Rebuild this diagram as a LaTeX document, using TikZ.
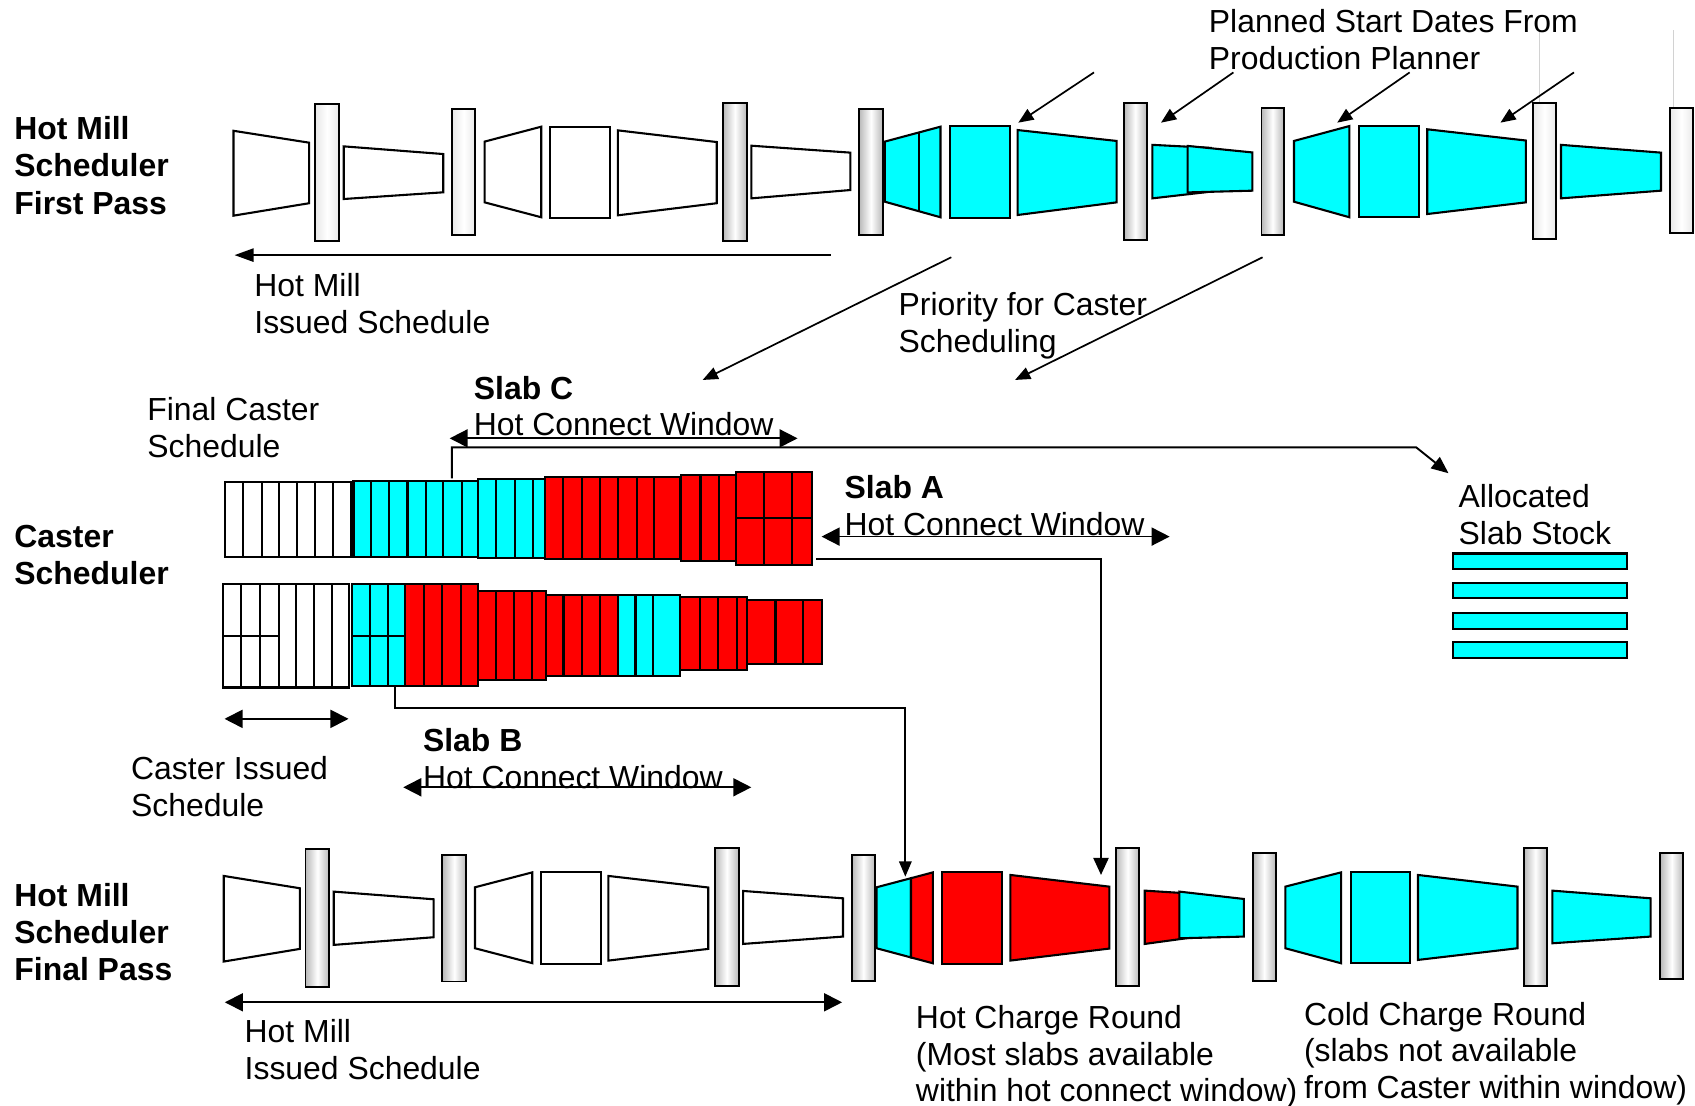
\documentclass[tikz,border=0pt]{standalone}
\usepackage{fontspec}
\setmainfont{Liberation Sans}
\usetikzlibrary{arrows.meta}
\definecolor{aqua}{RGB}{0,255,255}
\definecolor{hotred}{RGB}{255,0,0}

\begin{document}
\begin{tikzpicture}[x=0.02cm,y=-0.02cm,
  txt/.style={anchor=north west,inner sep=0pt,align=left,font=\fontsize{16.8}{19.4}\selectfont},
  head/.style={txt,font=\fontsize{16.8}{19.6}\selectfont\bfseries},
  slab/.style={draw,line width=1.1pt},
  roll/.style={draw,line width=1pt,left color=gray!55,right color=gray!55,middle color=white},
  paleroll/.style={draw,line width=1pt,left color=gray!18,right color=gray!18,middle color=white},
  arr/.style={-{Triangle[length=8pt,width=6.5pt]},line width=0.9pt},
  dbl/.style={{Triangle[length=9.5pt,width=9.5pt]}-{Triangle[length=9.5pt,width=9.5pt]},line width=0.9pt}]
\useasboundingbox (0,0) rectangle (1568,1023);

\draw[gray!35,line width=0.5pt] (1424,28)--(1424,96) (1548,28)--(1548,143);

\foreach \xa/\ta/\ba/\xb/\tb/\bb/\c in {
  216/121/199.5/286/132/188/white, 318/135.4/184.1/410/142.5/177.9/white,
  448.3/131/187.2/500.7/117.2/201/white, 508.5/117.2/201.7/564.1/117.2/201.7/white,
  571.5/120.6/199.2/663/131.4/188/white, 695.1/134.8/183.5/786.6/141.2/175.8/white,
  818.5/131/186.6/870/117.2/201/aqua, 879/116.6/201.7/934/116.6/201.7/aqua,
  941.3/120.3/198.9/1033/130.4/187.2/aqua, 1066/134/183.5/1120/136.8/177.3/aqua,
  1098.6/135/178/1158.5/141/176.4/aqua, 1197/130.4/186.6/1248.3/116.6/201/aqua,
  1257.3/116.6/201/1312.8/116.6/201/aqua, 1320.3/119.6/198/1411.6/130/187.2/aqua,
  1444/134/183.5/1536.5/141.2/176.4/aqua,
  207/810.3/889.5/277.4/821.7/877.8/white, 308.7/824.8/874.1/401.2/831.9/867/white,
  439.4/820.8/877.2/492.4/807/891/white, 500.5/807/891.7/556/807/891.7/white,
  562.8/810.3/888.6/655.2/821/877.8/white, 687.4/824.2/873.2/779.8/831/866.4/white,
  810.9/820.8/877.2/842.7/812.4/885.7/aqua, 842.7/812.4/885.7/863/807/891.1/hotred,
  871.6/807/891.7/927.3/807/891.7/hotred, 934.7/809.4/888.6/1026.2/820.2/877.5/hotred,
  1059/823.9/873.2/1100/826.5/867.6/hotred, 1091/824.8/868/1150.6/831.6/866.4/aqua,
  1189/820.2/877.2/1240.6/807/891.1/aqua, 1249.6/807/891/1304.3/807/891/aqua,
  1311.7/809.4/888/1403.8/820.2/877.2/aqua, 1436/823.9/872.6/1527/831/866.4/aqua}
  \draw[slab,fill=\c] (\xa,\ta) -- (\xb,\tb) -- (\xb,\bb) -- (\xa,\ba) -- cycle;
\draw[slab] (850,122.6) -- (850,195.4);

\foreach \xa/\ya/\xb/\yb/\s in {
  291.8/96.2/313.6/223.2/paleroll, 418.3/101.1/439.7/217.7/paleroll,
  668.8/95/691/222.6/roll, 794.8/101/816.6/217.4/roll, 1039.6/95/1061/222/roll,
  1167/99.6/1187.4/217.4/roll, 1418/95/1439.6/221.4/paleroll, 1545/100.2/1566.4/215.8/paleroll,
  282.6/785.6/304.7/912.7/roll, 409.2/790.9/431.3/908/roll, 661.3/784.7/683.4/912/roll,
  788/790.9/809.4/907.1/roll, 1032.2/784.7/1054/912/roll, 1159/789.3/1180/907.4/roll,
  1409.7/784.7/1431/912/roll, 1536/789.3/1557/906/roll}
  \draw[\s] (\xa,\ya) rectangle (\xb,\yb);

\foreach \xa/\ya/\xb/\yb/\c/\divs in {
  208/446/325/515/white/{224.5,242,258.5,275,291.5,308},
  327/445/442/515/aqua/{343,360,377,394,410,427},
  442/443/504/516/aqua/{459,476,493},
  504/441/629/517/hotred/{521,538,555,572,589,605},
  630/439/681/519/hotred/{648,665},
  681/437/751/523/hotred/{707,733},
  206/540/323/636/white/{223.3,240.5,257.7,273.9,290.6,307.5},
  326/540/375/635/aqua/{342,359.3},
  375/540/442/635/hotred/{392.6,409,426.3},
  442/547/505/629/hotred/{458.8,475.3,492},
  505/550/571.8/625/hotred/{521.3,538.1,555},
  571.8/550/629/625/aqua/{587.9,604.4},
  629/552/691/620/hotred/{647.6,663.8,681.4},
  691/555/760/614/hotred/{717.4,743}} {
  \draw[slab,fill=\c] (\xa,\ya) rectangle (\xb,\yb);
  \foreach \d in \divs \draw[slab] (\d,\ya) -- (\d,\yb);
}
\draw[slab] (681,479) -- (751,479) (206,588) -- (257.7,588) (326,588) -- (375,588);

\foreach \y in {512,539,567,594}
  \draw[slab,fill=aqua] (1344,\y) rectangle (1505,\y+14.5);

\node[head] (hmFirst) at (13,107.5) {Hot Mill\\Scheduler\\First Pass};
\node[head] (casterSch) at (13,485.5) {Caster\\Scheduler};
\node[head] (hmFinal) at (13,816.5) {Hot Mill\\Scheduler\\Final Pass};
\node[txt] (planner) at (1118,8.5) {Planned Start Dates From\\Production Planner};
\node[txt] (issuedTop) at (235,252.5) {Hot Mill\\Issued Schedule};
\node[txt] (priority) at (831,270.5) {Priority for Caster\\Scheduling};
\node[txt] (finalCaster) at (136,367.5) {Final Caster\\Schedule};
\node[txt] (slabC) at (438,347.5) {\textbf{Slab C}\\Hot Connect Window};
\node[txt] (slabA) at (781,439.5) {\textbf{Slab A}\\Hot Connect Window};
\node[txt] (stock) at (1349,447.5) {Allocated\\Slab Stock};
\node[txt] (casterIssued) at (121,699.5) {Caster Issued\\Schedule};
\node[txt] (slabB) at (391,673.5) {\textbf{Slab B}\\Hot Connect Window};
\node[txt] (issuedBot) at (226,942.5) {Hot Mill\\Issued Schedule};
\node[txt] (hotCharge) at (847,929.5) {Hot Charge Round\\(Most slabs available\\within hot connect window)};
\node[txt] (coldCharge) at (1206,926.5) {Cold Charge Round\\(slabs not available\\from Caster within window)};

\foreach \i/\sx/\tx in {1/1012/942,2/1141/1074,3/1304/1237,4/1456/1388} {
  \coordinate (ps\i) at (\sx,67);
  \coordinate (pt\i) at (\tx,113.5);
  \draw[arr] (ps\i) -- (pt\i);
}
\coordinate (topS) at (769,236);
\coordinate (topE) at (217,236);
\draw[{Triangle[length=10pt,width=7pt]}-,line width=0.9pt] (topE) -- (topS);
\coordinate (pr1) at (880,238);
\coordinate (pr2) at (1168,238);
\draw[arr] (pr1) -- (650,351.5);
\draw[arr] (pr2) -- (939,351.5);

\coordinate (cTop) at (418,442.5);
\coordinate (stockIn) at (1340,437.8);
\draw[-{Triangle[length=9pt,width=7.5pt]},line width=1pt] (cTop) |- (1310,413.8) -- (stockIn);
\coordinate (aOut) at (755,517.5);
\coordinate (aIn) at (1018.5,809.4);
\draw[-{Triangle[length=9pt,width=8pt]},line width=1pt] (aOut) -| (aIn);
\coordinate (bOut) at (365,635.5);
\coordinate (bIn) at (837.5,811);
\draw[arr,line width=1pt] (bOut) |- (837.5,655.2) -- (bIn);

\draw[dbl] (416,405.5) -- (737.8,405.5);
\draw[dbl] (760,496.4) -- (1082,496.4);
\draw[dbl] (207.7,665) -- (322.4,665);
\draw[dbl] (373,728.3) -- (695,728.3);
\draw[dbl] (208,927.2) -- (779,927.2);
\end{tikzpicture}
\end{document}
